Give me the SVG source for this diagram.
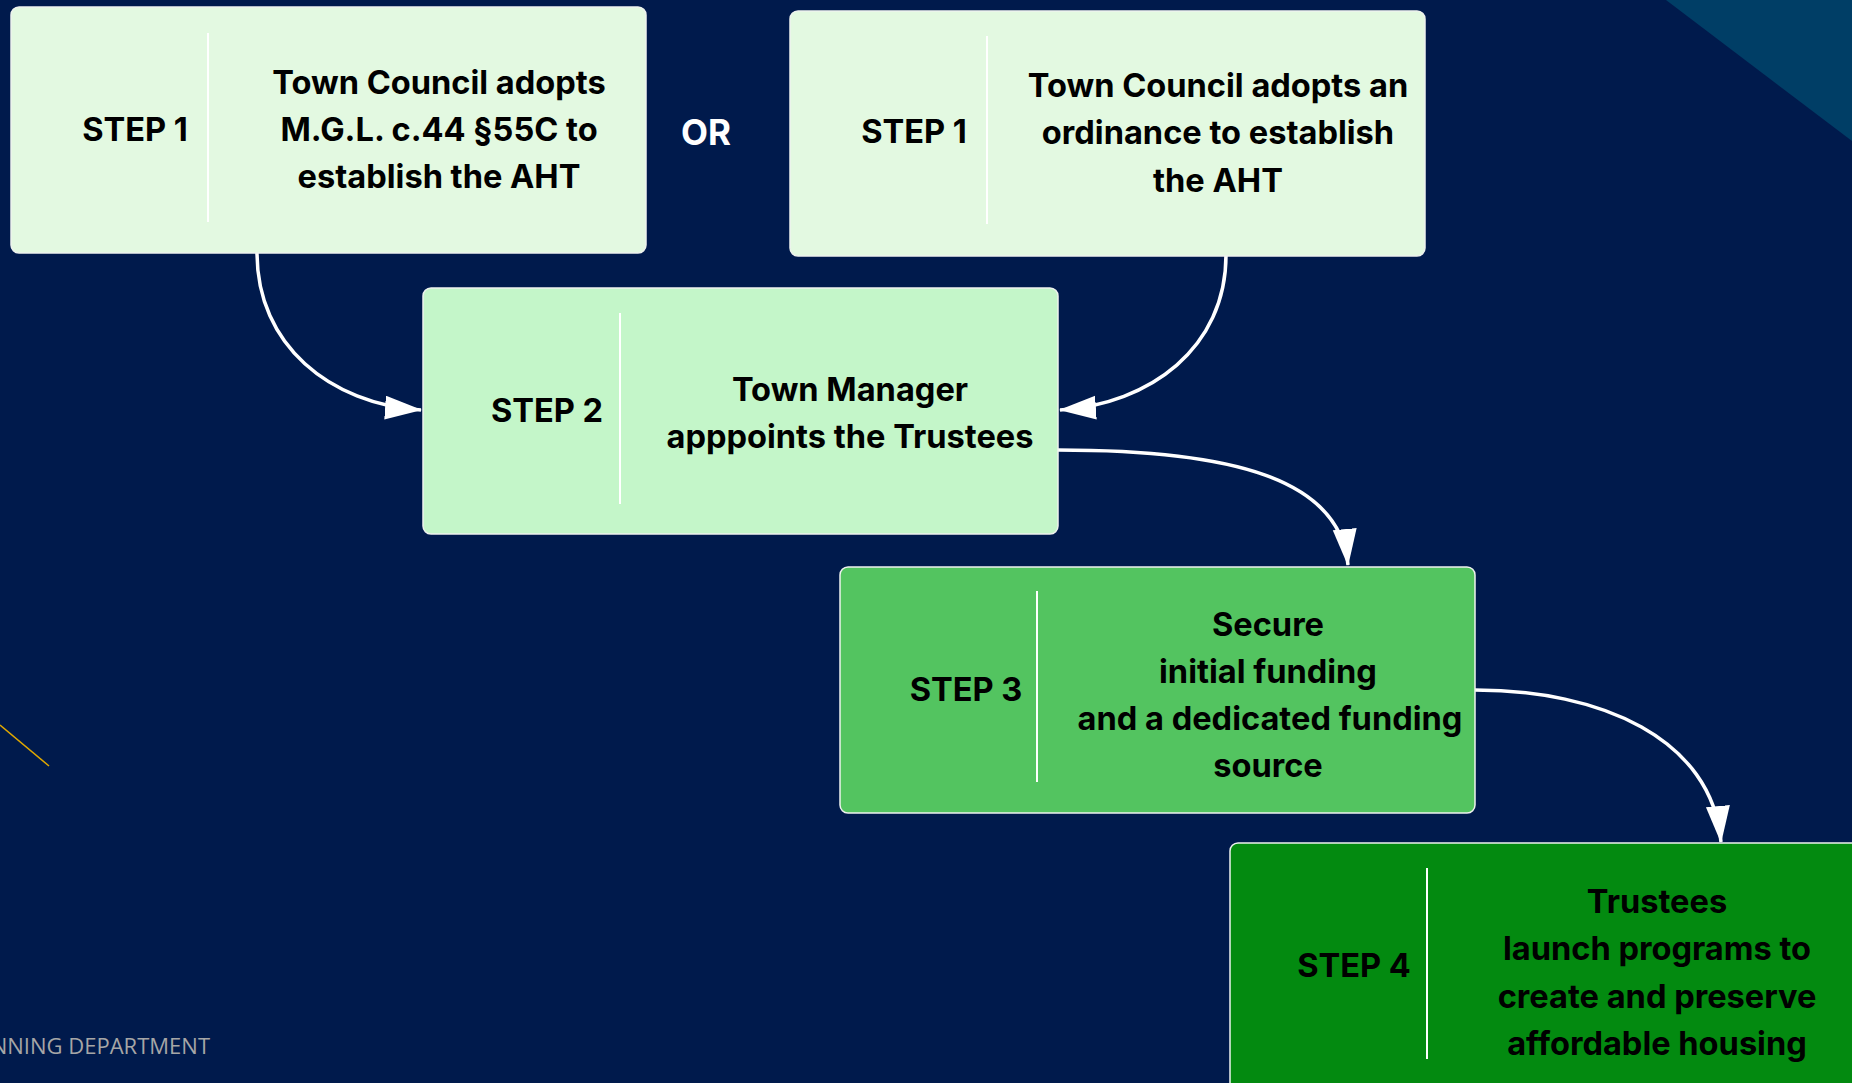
<svg xmlns="http://www.w3.org/2000/svg" width="1852" height="1083" viewBox="0 0 1852 1083">
<defs>
<style>
.box{stroke:#eef2ee;stroke-width:1.5}
.div{stroke:#ffffff;stroke-width:2}
.t{font-family:Inter,"Liberation Sans",sans-serif;font-weight:700;font-size:32.6px;fill:#000;text-anchor:middle}
.conn{fill:none;stroke:#ffffff;stroke-width:3.5}
</style>
<marker id="ah" markerUnits="userSpaceOnUse" markerWidth="38" markerHeight="28" refX="36" refY="12" orient="auto">
<path d="M0,0 L37,12 L0,24 Z" fill="#ffffff"/>
</marker>
</defs>
<rect width="1852" height="1083" fill="#001a4c"/>
<polygon points="1666,0 1852,0 1852,141" fill="#003e66"/>
<line x1="0" y1="725" x2="49" y2="766" stroke="#e0a800" stroke-width="1.5"/>
<text x="210" y="1054" font-family="'Open Sans','Liberation Sans',sans-serif" font-size="22" fill="#a6a6a6" text-anchor="end">PLANNING DEPARTMENT</text>
<text x="706" y="145" class="t" style="fill:#fff;font-size:35px">OR</text>

<g id="connectors">
<path class="conn" d="M257,253 C257,345 330,404 421,410" marker-end="url(#ah)"/>
<path class="conn" d="M1226,255 C1226,348 1150,404 1060,410" marker-end="url(#ah)"/>
<path class="conn" d="M1058,450 C1230,450 1340,478 1348,565" marker-end="url(#ah)"/>
<path class="conn" d="M1475,690 C1600,690 1712,738 1721,842" marker-end="url(#ah)"/>
</g>

<g id="step1a">
<rect class="box" x="11" y="7" width="635" height="246" rx="8" fill="#e3f9e1"/>
<line class="div" x1="208" y1="33" x2="208" y2="222"/>
<text class="t" x="135" y="141">STEP 1</text>
<text class="t" x="439" y="94">Town Council adopts</text>
<text class="t" x="439" y="141">M.G.L. c.44 §55C to</text>
<text class="t" x="439" y="188">establish the AHT</text>
</g>

<g id="step1b">
<rect class="box" x="790" y="11" width="635" height="245" rx="8" fill="#e3f9e1"/>
<line class="div" x1="987" y1="36" x2="987" y2="224"/>
<text class="t" x="914" y="143">STEP 1</text>
<text class="t" x="1218" y="97">Town Council adopts an</text>
<text class="t" x="1218" y="144">ordinance to establish</text>
<text class="t" x="1218" y="192">the AHT</text>
</g>

<g id="step2">
<rect class="box" x="423" y="288" width="635" height="246" rx="8" fill="#c4f6c9"/>
<line class="div" x1="620" y1="313" x2="620" y2="504"/>
<text class="t" x="547" y="422">STEP 2</text>
<text class="t" x="850" y="401">Town Manager</text>
<text class="t" x="850" y="448">apppoints the Trustees</text>
</g>

<g id="step3">
<rect class="box" x="840" y="567" width="635" height="246" rx="8" fill="#53c460"/>
<line class="div" x1="1037" y1="591" x2="1037" y2="782"/>
<text class="t" x="966" y="701">STEP 3</text>
<text class="t" x="1268" y="636">Secure</text>
<text class="t" x="1268" y="683">initial funding</text>
<text class="t" x="1270" y="730">and a dedicated funding</text>
<text class="t" x="1268" y="777">source</text>
</g>

<g id="step4">
<rect class="box" x="1230" y="843" width="635" height="260" rx="8" fill="#038a10"/>
<line class="div" x1="1427" y1="868" x2="1427" y2="1059"/>
<text class="t" x="1354" y="977">STEP 4</text>
<text class="t" x="1657" y="913">Trustees</text>
<text class="t" x="1657" y="960">launch programs to</text>
<text class="t" x="1657" y="1008">create and preserve</text>
<text class="t" x="1657" y="1055">affordable housing</text>
</g>
</svg>
